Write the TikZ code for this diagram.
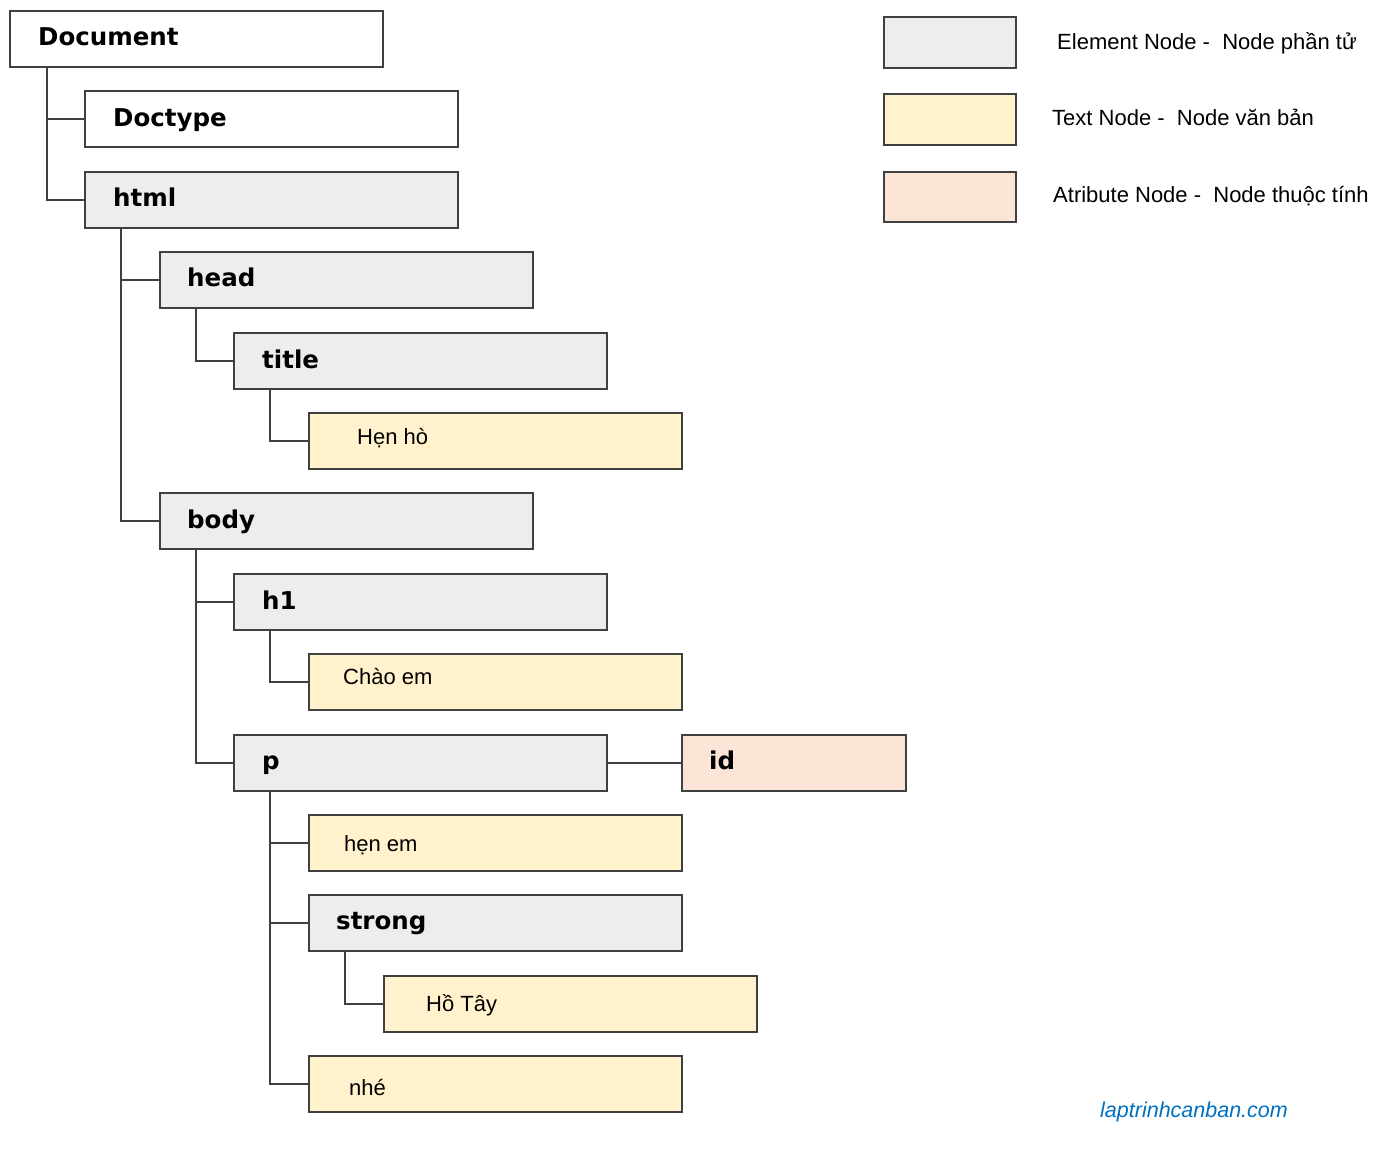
\documentclass[tikz,border=0pt]{standalone}
\usepackage{fontspec}
\setmainfont{Liberation Sans}
\newfontfamily\boldlabel{DejaVu Sans}
\definecolor{elemfill}{HTML}{EDEDED}
\definecolor{textfill}{HTML}{FFF2CC}
\definecolor{attrfill}{HTML}{FCE4D6}
\definecolor{edge}{HTML}{404040}
\definecolor{wm}{HTML}{0070C0}
\tikzset{
  box/.style={draw=edge, line width=2pt, rectangle, anchor=north west, inner sep=0pt},
  wide/.style={minimum width=373pt, minimum height=56pt},
  elem/.style={box, wide, fill=elemfill},
  plain/.style={box, wide, fill=white},
  txt/.style={box, wide, fill=textfill},
  attr/.style={box, fill=attrfill, minimum width=224pt, minimum height=56pt},
  legbox/.style={box, minimum width=132pt, minimum height=51pt},
  blbl/.style={anchor=base west, inner sep=0pt, font=\boldlabel\fontsize{24.5}{28}\selectfont\bfseries},
  tlbl/.style={anchor=base west, inner sep=0pt, font=\fontsize{22}{25}\selectfont},
  conn/.style={draw=edge, line width=2pt},
}
\begin{document}
\begin{tikzpicture}[x=1pt, y=-1pt]
\useasboundingbox (0,0) rectangle (1394,1150);
% boxes
\node[plain] (doc) at (9,10) {};
\node[plain] (doctype) at (84,90) {};
\node[elem] (html) at (84,171) {};
\node[elem] (head) at (159,251) {};
\node[elem] (title) at (233,332) {};
\node[txt] (henho) at (308,412) {};
\node[elem] (body) at (159,492) {};
\node[elem] (h1) at (233,573) {};
\node[txt] (chaoem) at (308,653) {};
\node[elem] (p) at (233,734) {};
\node[attr] (id) at (681,734) {};
\node[txt] (henem) at (308,814) {};
\node[elem] (strong) at (308,894) {};
\node[txt] (hotay) at (383,975) {};
\node[txt] (nhe) at (308,1055) {};
% labels
\node[blbl] (ldoc) at ([xshift=29pt,yshift=-7pt]doc.west) {Document};
\node[blbl] (ldoctype) at ([xshift=29pt,yshift=-8pt]doctype.west) {Doctype};
\node[blbl] (lhtml) at ([xshift=29pt,yshift=-7pt]html.west) {html};
\node[blbl] (lhead) at ([xshift=28pt,yshift=-7pt]head.west) {head};
\node[blbl] (ltitle) at ([xshift=29pt,yshift=-7pt]title.west) {title};
\node[tlbl] (lhenho) at ([xshift=49pt,yshift=-3pt]henho.west) {Hẹn hò};
\node[blbl] (lbody) at ([xshift=28pt,yshift=-7pt]body.west) {body};
\node[blbl] (lh1) at ([xshift=29pt,yshift=-7pt]h1.west) {h1};
\node[tlbl] (lchaoem) at ([xshift=35pt,yshift=-2pt]chaoem.west) {Chào em};
\node[blbl] (lp) at ([xshift=29pt,yshift=-6pt]p.west) {p};
\node[blbl] (lid) at ([xshift=28pt,yshift=-6pt]id.west) {id};
\node[tlbl] (lhenem) at ([xshift=36pt,yshift=-8pt]henem.west) {hẹn em};
\node[blbl] (lstrong) at ([xshift=28pt,yshift=-6pt]strong.west) {strong};
\node[tlbl] (lhotay) at ([xshift=43pt,yshift=-7pt]hotay.west) {Hồ Tây};
\node[tlbl] (lnhe) at ([xshift=41pt,yshift=-11pt]nhe.west) {nhé};
% connectors
\draw[conn] ([xshift=38pt]doc.south west) |- (doctype.west);
\draw[conn] ([xshift=38pt]doc.south west) |- (html.west);
\draw[conn] ([xshift=37pt]html.south west) |- (head.west);
\draw[conn] ([xshift=37pt]html.south west) |- (body.west);
\draw[conn] ([xshift=37pt]head.south west) |- (title.west);
\draw[conn] ([xshift=37pt]title.south west) |- (henho.west);
\draw[conn] ([xshift=37pt]body.south west) |- (h1.west);
\draw[conn] ([xshift=37pt]body.south west) |- (p.west);
\draw[conn] ([xshift=37pt]h1.south west) |- (chaoem.west);
\draw[conn] ([xshift=37pt]p.south west) |- (henem.west);
\draw[conn] ([xshift=37pt]p.south west) |- (strong.west);
\draw[conn] ([xshift=37pt]p.south west) |- (nhe.west);
\draw[conn] ([xshift=37pt]strong.south west) |- (hotay.west);
\draw[conn] (p.east) -- (id.west);
% legend
\node[legbox, fill=elemfill] (legelem) at (883,16) {};
\node[legbox, fill=textfill] (legtext) at (883,93) {};
\node[legbox, fill=attrfill, minimum height=50pt] (legattr) at (883,171) {};
\node[tlbl] (lelem) at (1057,50) {Element Node -\ \ Node phần tử};
\node[tlbl] (ltext) at (1052,126) {Text Node -\ \ Node văn bản};
\node[tlbl] (lattr) at (1053,203) {Atribute Node -\ \ Node thuộc tính};
% watermark
\node[tlbl, font=\fontsize{21.5}{24}\selectfont\itshape, text=wm] (wmark) at (1100,1117) {laptrinhcanban.com};
\end{tikzpicture}
\end{document}
